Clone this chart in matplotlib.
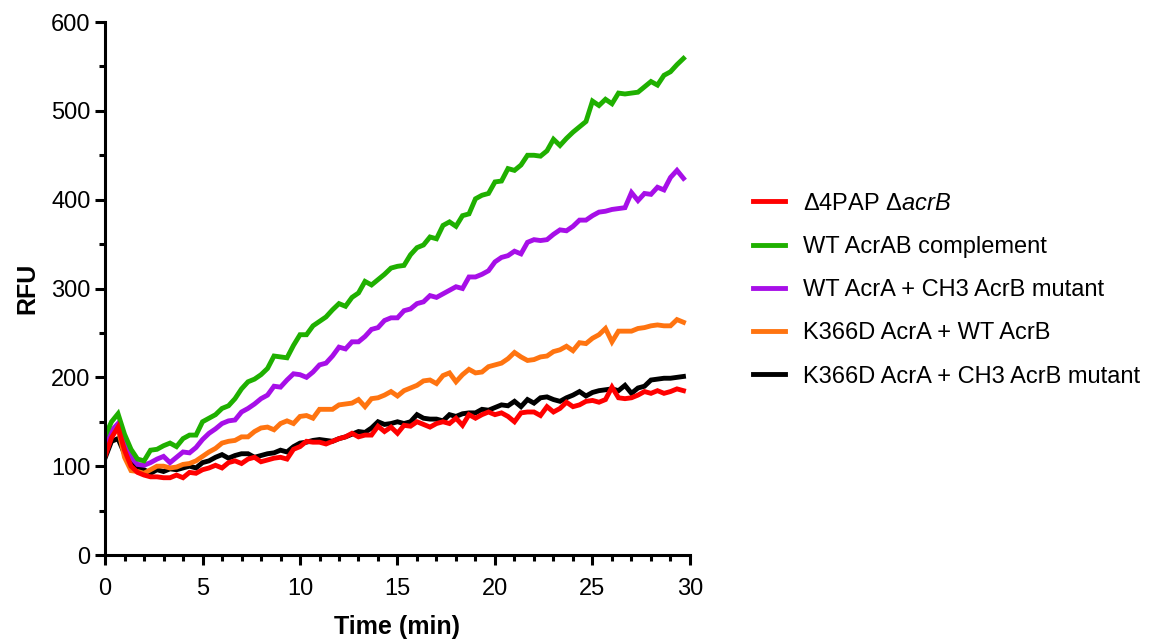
# RFU vs time for the AcrAB efflux assay
import numpy as np
import matplotlib
matplotlib.use('Agg')
import matplotlib.pyplot as plt
from matplotlib.ticker import MultipleLocator

plt.rcParams['font.family'] = ['Liberation Sans', 'DejaVu Sans']
plt.rcParams['mathtext.fontset'] = 'custom'
plt.rcParams['mathtext.rm'] = 'Liberation Sans'
plt.rcParams['mathtext.it'] = 'Liberation Sans:italic'

# reads every 20 s
time = np.arange(90) / 3.0

red = [111, 132, 144, 118, 100, 93, 90, 88, 88, 87, 87, 90, 87, 93, 92,
       96, 98, 101, 98, 104, 106, 103, 108, 110, 105, 107, 109, 110, 108, 119,
       122, 128, 127, 127, 125, 128, 131, 133, 137, 133, 135, 135, 145, 139, 144,
       137, 146, 145, 150, 147, 144, 148, 150, 148, 154, 146, 158, 154, 158, 161,
       158, 160, 156, 150, 160, 161, 161, 157, 167, 161, 165, 172, 167, 169, 173,
       174, 172, 175, 189, 177, 176, 177, 180, 184, 182, 185, 182, 184, 187, 185]

green = [134, 150, 159, 136, 119, 108, 106, 118, 119, 123, 126, 122, 131, 135, 135,
         150, 154, 158, 165, 168, 176, 187, 195, 198, 203, 210, 224, 223, 222, 236,
         248, 248, 258, 263, 268, 276, 283, 280, 290, 295, 308, 304, 310, 316, 323,
         325, 326, 338, 346, 349, 358, 356, 371, 375, 370, 382, 384, 401, 405, 407,
         420, 421, 435, 433, 439, 450, 450, 449, 455, 468, 461, 469, 476, 482, 488,
         511, 506, 513, 508, 520, 519, 520, 521, 527, 533, 529, 540, 544, 552, 559]

purple = [124, 140, 148, 128, 110, 102, 101, 104, 108, 111, 104, 110, 116, 115, 121,
          130, 137, 142, 148, 151, 152, 161, 165, 170, 176, 180, 190, 189, 197, 204,
          203, 200, 206, 214, 216, 224, 234, 232, 240, 240, 246, 254, 256, 264, 267,
          267, 275, 277, 283, 285, 292, 290, 294, 298, 302, 300, 313, 313, 316, 320,
          330, 335, 337, 342, 339, 352, 355, 354, 355, 361, 366, 365, 370, 377, 377,
          382, 386, 387, 389, 390, 391, 408, 399, 407, 406, 414, 411, 425, 433, 424]

orange = [120, 140, 143, 110, 95, 94, 92, 96, 100, 100, 98, 99, 102, 103, 106,
          111, 116, 120, 126, 128, 129, 133, 133, 139, 143, 144, 141, 148, 151, 148,
          156, 157, 154, 164, 164, 164, 169, 170, 171, 175, 167, 176, 177, 180, 184,
          179, 185, 188, 191, 196, 197, 193, 202, 205, 195, 203, 209, 205, 206, 212,
          214, 216, 221, 228, 223, 219, 220, 223, 224, 229, 231, 235, 230, 239, 238,
          244, 248, 255, 240, 252, 252, 252, 255, 256, 258, 259, 258, 258, 265, 262]

black = [109, 128, 131, 114, 105, 99, 96, 92, 96, 94, 97, 96, 98, 100, 98,
         104, 106, 110, 113, 109, 112, 114, 114, 110, 112, 114, 115, 118, 116, 122,
         126, 127, 129, 130, 129, 128, 131, 133, 136, 139, 138, 143, 150, 147, 148,
         150, 148, 150, 158, 154, 153, 153, 151, 158, 156, 159, 160, 160, 164, 163,
         166, 169, 168, 173, 167, 175, 171, 177, 178, 175, 173, 177, 180, 184, 179,
         183, 185, 186, 187, 185, 191, 182, 188, 190, 197, 198, 199, 199, 200, 201]

labels = [r'Δ4PAP Δ$\mathit{acrB}$', 'WT AcrAB complement',
          'WT AcrA + CH3 AcrB mutant', 'K366D AcrA + WT AcrB',
          'K366D AcrA + CH3 AcrB mutant']
colours = ['#FF0000', '#1FB000', '#A70FE8', '#FF7410', '#000000']
series = [red, green, purple, orange, black]

fig = plt.figure(figsize=(11.49, 6.42), dpi=100)
ax = fig.add_axes([0.0914, 0.1355, 0.5091, 0.8302])

lines = []
for i in [4, 3, 2, 1, 0]:
    ln, = ax.plot(time, series[i], color=colours[i], lw=3.5,
                  solid_joinstyle='miter', label=labels[i])
    lines.append(ln)
lines = lines[::-1]

ax.set_xlim(0, 30)
ax.set_ylim(0, 600)
ax.xaxis.set_major_locator(MultipleLocator(5))
ax.xaxis.set_minor_locator(MultipleLocator(1))
ax.yaxis.set_major_locator(MultipleLocator(100))
ax.yaxis.set_minor_locator(MultipleLocator(50))
for s in ['top', 'right']:
    ax.spines[s].set_visible(False)
for s in ['left', 'bottom']:
    ax.spines[s].set_linewidth(2.2)
ax.tick_params(which='major', length=7.5, width=2.2, labelsize=17)
ax.tick_params(which='minor', length=4.5, width=2.2)
ax.tick_params(axis='x', which='major', pad=9)
ax.tick_params(axis='y', which='major', pad=3)
ax.set_xlabel('Time (min)', fontsize=18, fontweight='bold', labelpad=11)
ax.set_ylabel('RFU', fontsize=18, fontweight='bold', labelpad=8)

fig.legend(lines, labels, loc='center left', bbox_to_anchor=(0.6455, 0.548),
           frameon=False, fontsize=17, handlelength=1.35, handletextpad=0.75,
           labelspacing=0.9, borderpad=0)

plt.savefig('out.png', dpi=100)
